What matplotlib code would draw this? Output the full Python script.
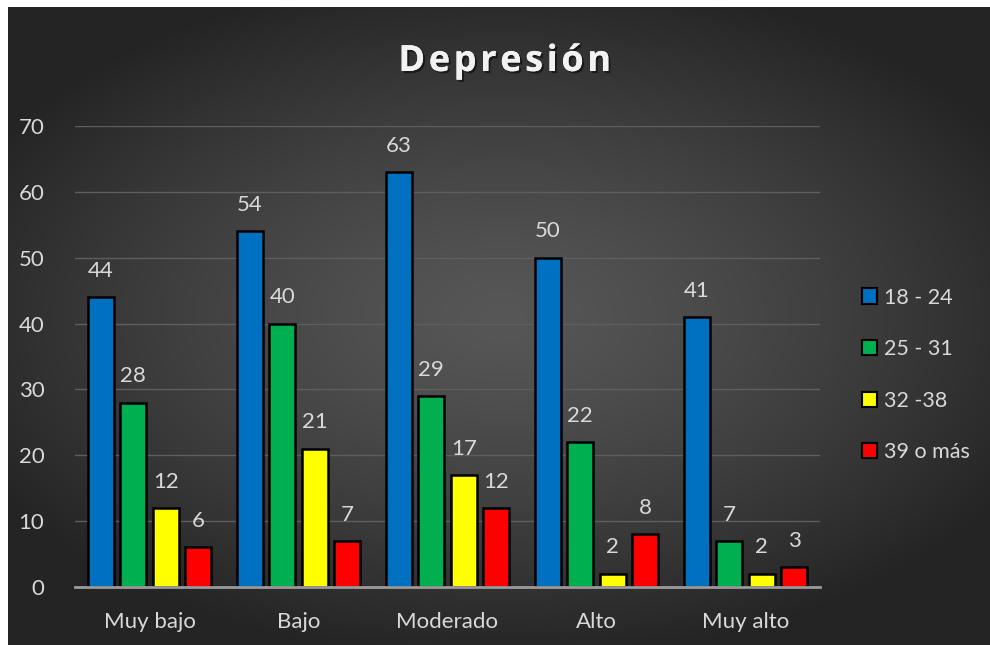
import numpy as np
import matplotlib.pyplot as plt
from matplotlib import patheffects as pe
from matplotlib.patches import Patch

niveles = ['Muy bajo', 'Bajo', 'Moderado', 'Alto', 'Muy alto']
edades = ['18 - 24', '25 - 31', '32 -38', '39 o más']
valores = [
    [44, 54, 63, 50, 41],
    [28, 40, 29, 22, 7],
    [12, 21, 17, 2, 2],
    [6, 7, 12, 8, 3],
]
colores = ['#0070c0', '#00b050', '#ffff00', '#ff0000']

plt.rcParams['font.family'] = ['Lato', 'DejaVu Sans']
txt = '#d9d9d9'

fig = plt.figure(figsize=(9.9, 6.45), dpi=100)
fig.patch.set_facecolor('white')

# fondo con degradado radial (gris medio al centro, casi negro en bordes)
bg = fig.add_axes([8 / 990, -0.02, 1, 1.02 - 7 / 645])
yy, xx = np.mgrid[-1:1:300j, -1:1:400j]
r = np.clip(np.sqrt((xx * 0.85) ** 2 + ((yy + 0.05) * 0.95) ** 2), 0, 1)
gris = 0.34 - (0.34 - 0.145) * r ** 1.3
bg.imshow(np.dstack([gris, gris, gris]), aspect='auto',
          extent=[0, 1, 0, 1], interpolation='bilinear')
bg.set_xlim(0, 1)
bg.set_ylim(0, 1)
bg.axis('off')

ax = fig.add_axes([75 / 990, 1 - 587 / 645, 745 / 990, 461 / 645])
ax.set_facecolor('none')

x = np.arange(len(niveles))
ancho = 0.175
paso = 0.218
for i, (serie, c) in enumerate(zip(valores, colores)):
    pos = x + (i - 1.5) * paso
    barras = ax.bar(pos, serie, ancho, color=c, edgecolor='black',
                    linewidth=1.8, zorder=3, label=edades[i])
    for b, v in zip(barras, serie):
        ax.annotate(str(v), (b.get_x() + b.get_width() / 2, v),
                    xytext=(0, 19), textcoords='offset points',
                    ha='center', va='center', color=txt, fontsize=16)

ax.set_xlim(-0.5, 4.5)
ax.set_ylim(0, 70)
ax.set_yticks(range(0, 71, 10))
ax.set_xticks(x)
ax.set_xticklabels(niveles)
ax.grid(axis='y', color='#5e5e5e', linewidth=1, zorder=0)
for s in ['top', 'right', 'left']:
    ax.spines[s].set_visible(False)
ax.spines['bottom'].set_color('#9a9a9a')
ax.spines['bottom'].set_linewidth(2)
ax.spines['bottom'].set_zorder(4)
ax.tick_params(axis='both', length=0, colors=txt, labelsize=16)
ax.tick_params(axis='x', pad=18)
ax.tick_params(axis='y', pad=22)

fig.text(505 / 990, 1 - 62 / 645, '\u200a'.join('Depresión'),
         ha='center', va='center', color='#f2f2f2', fontsize=26,
         fontweight='bold', family=['Open Sans', 'DejaVu Sans'],
         path_effects=[pe.withSimplePatchShadow(offset=(1.5, -1.5),
                                                shadow_rgbFace='black', alpha=0.5),
                       pe.Normal()])

handles = [Patch(facecolor=c, edgecolor='black', linewidth=1.5) for c in colores]
leg = fig.legend(handles, edades, loc='center left',
                 bbox_to_anchor=(843 / 990, 1 - 375 / 645), frameon=False,
                 labelcolor=txt, fontsize=15.5, handlelength=0.7,
                 handleheight=0.7, handletextpad=0.3, labelspacing=1.47)

fig.savefig('out.png', dpi=100, facecolor='white')
